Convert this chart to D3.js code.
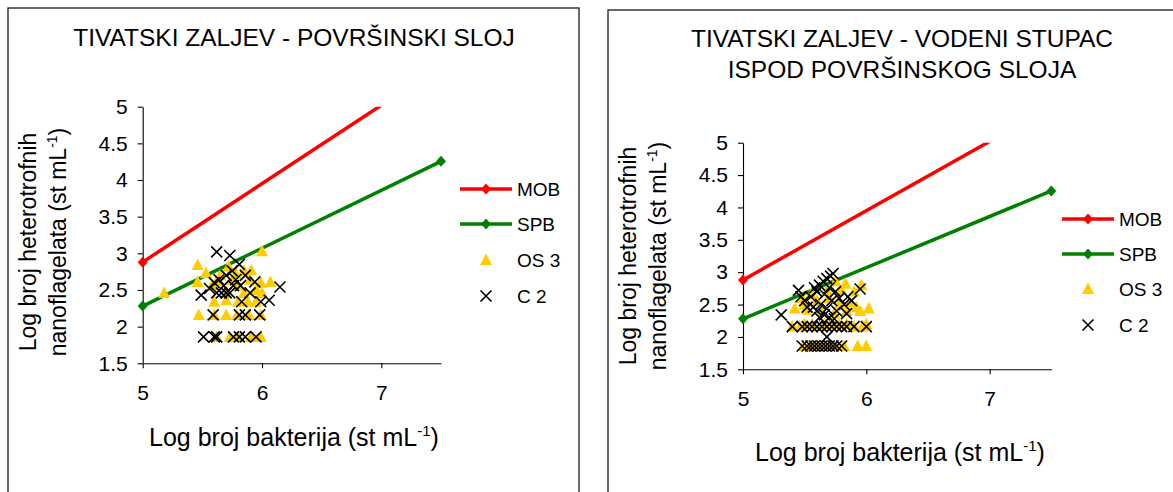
<!DOCTYPE html>
<html><head><meta charset="utf-8">
<script src="https://cdn.jsdelivr.net/npm/d3@7/dist/d3.min.js"></script>
<style>
body{margin:0;background:#fff}
svg{display:block}
text{font-family:"Liberation Sans",Arial,sans-serif;fill:#000}
</style>
</head><body>
<svg id="c" width="1173" height="492"></svg>
<script>
// ---------- data ----------
const xTicks = [5, 6, 7];
const yTicks = [1.5, 2, 2.5, 3, 3.5, 4, 4.5, 5];
const xDomain = [5, 7.5];
const yDomain = [1.5, 5];
const seriesNames = ["MOB", "SPB", "OS 3", "C 2"];
const mobLine = [[5, 2.88], [7.5, 5.555]];
const spbLine = [[5, 2.28], [7.5, 4.255]];

const os3Surface = [[5.18,2.46],[5.46,2.84],[5.53,2.73],[5.46,2.61],[5.72,2.82],[5.91,2.77],[6.0,3.03],[6.07,2.61],[5.99,2.60],
 [5.58,2.56],[5.65,2.70],[5.70,2.46],[5.75,2.64],[5.80,2.56],[5.85,2.46],[5.90,2.64],[5.95,2.50],[6.0,2.46],
 [5.60,2.34],[5.70,2.36],[5.80,2.34],[5.88,2.34],[5.95,2.34],[5.78,2.72],[5.85,2.76],[5.62,2.62],
 [5.47,2.16],[5.60,2.16],[5.70,2.16],[5.79,2.16],[5.89,2.16],[5.99,2.16],
 [5.62,1.86],[5.73,1.86],[5.80,1.86],[5.91,1.86],[5.99,1.86]];
const c2Surface = [[5.62,3.02],[5.73,2.97],[5.81,2.85],[5.75,2.76],[5.70,2.70],[5.64,2.64],[5.78,2.64],[5.86,2.70],[5.60,2.60],
 [5.82,2.56],[5.68,2.56],[5.76,2.56],[5.94,2.61],[6.15,2.54],[5.56,2.52],[5.49,2.43],[5.62,2.46],[5.66,2.46],[5.70,2.46],
 [5.73,2.46],[5.90,2.46],[5.83,2.34],[5.99,2.34],[6.06,2.36],[5.59,2.16],[5.81,2.16],[5.86,2.16],[5.98,2.16],
 [5.51,1.86],[5.60,1.86],[5.62,1.86],[5.76,1.86],[5.81,1.86],[5.86,1.86],[5.95,1.86]];

const os3Deep = [[5.75,2.86],[5.83,2.82],[5.96,2.80],[5.90,2.70],[5.80,2.72],[5.68,2.72],[5.55,2.66],[5.48,2.60],[5.42,2.44],
 [5.50,2.50],[5.60,2.56],[5.70,2.60],[5.78,2.50],[5.86,2.54],[5.95,2.40],[6.02,2.44],[5.92,2.46],
 [5.40,2.16],[5.46,2.16],[5.50,2.20],[5.56,2.20],[5.62,2.16],[5.66,2.20],[5.72,2.20],[5.78,2.20],[5.84,2.20],[5.90,2.16],[5.97,2.16],[6.00,2.20],
 [5.52,2.42],[5.64,2.40],[5.74,2.36],[5.84,2.40],
 [5.49,1.86],[5.55,1.86],[5.60,1.86],[5.65,1.86],[5.70,1.86],[5.76,1.86],[5.82,1.86],[5.93,1.86],[6.00,1.86]];
const c2Deep = [[5.73,2.98],[5.71,2.94],[5.68,2.90],[5.65,2.86],[5.62,2.80],[5.58,2.76],
 [5.45,2.72],[5.47,2.62],[5.50,2.56],[5.55,2.62],[5.60,2.70],[5.66,2.66],[5.70,2.76],[5.75,2.70],[5.78,2.60],[5.85,2.62],[5.95,2.74],
 [5.88,2.56],[5.82,2.50],[5.72,2.56],[5.63,2.50],[5.57,2.46],[5.52,2.46],[5.60,2.40],[5.68,2.44],[5.76,2.40],[5.84,2.36],
 [5.31,2.34],[5.40,2.16],[5.48,2.16],[5.52,2.16],[5.56,2.16],[5.60,2.16],[5.64,2.16],[5.68,2.16],[5.72,2.16],[5.76,2.16],[5.80,2.16],[5.84,2.16],[5.90,2.16],[6.00,2.16],
 [5.62,2.30],[5.66,2.34],[5.70,2.30],[5.74,2.28],
 [5.68,2.0],
 [5.48,1.86],[5.52,1.86],[5.55,1.86],[5.58,1.86],[5.61,1.86],[5.64,1.86],[5.67,1.86],[5.70,1.86],[5.73,1.86],[5.76,1.86],[5.80,1.86]];

const titleSurface = ["TIVATSKI ZALJEV - POVRŠINSKI SLOJ"];
const titleDeep = ["TIVATSKI ZALJEV - VODENI STUPAC", "ISPOD POVRŠINSKOG SLOJA"];
const yTitleLines = ["Log broj heterotrofnih", "nanoflagelata (st mL"];
const xTitle = "Log broj bakterija (st mL";

// ---------- layout ----------
const panels = [
  {box:[8,8,571,520], x:[142.7,441], y:[363.3,106.7], title:titleSurface, titleX:294, titleY:46,
   yTitleX:[36,66], yTitleY:242, xTitleX:294, xTitleY:446, legX:460, legY:[189,224,260,296],
   os3:os3Surface, c2:c2Surface},
  {box:[608,10,600,520], x:[743,1051.3], y:[369.3,142.7], title:titleDeep, titleX:902, titleY:47,
   yTitleX:[636,666], yTitleY:256, xTitleX:900, xTitleY:461, legX:1062, legY:[219,254,289,325],
   os3:os3Deep, c2:c2Deep}
];

const svg = d3.select("#c");
const diamond = "M0,-5.5L5,0L0,5.5L-5,0Z";
const tri = "M0,-6.5L6,5L-6,5Z";
const cross = "M-5.5,-5.5L5.5,5.5M-5.5,5.5L5.5,-5.5";
const red = "#ff0000", green = "#008000", yellow = "#ffcc00";
const FONT = '"Liberation Sans",Arial,sans-serif';

panels.forEach((p, i) => {
  const g = svg.append("g");
  g.append("rect").attr("x", p.box[0]).attr("y", p.box[1]).attr("width", p.box[2]).attr("height", p.box[3])
    .attr("fill", "#fff").attr("stroke", "#1a1a1a").attr("stroke-width", 1.3);

  const x = d3.scaleLinear().domain(xDomain).range(p.x);
  const y = d3.scaleLinear().domain(yDomain).range(p.y);

  // titles
  p.title.forEach((t, k) => g.append("text").attr("x", p.titleX).attr("y", p.titleY + k * 31)
    .attr("text-anchor", "middle").style("font-size", "24.5px").text(t));

  // axes
  const ya = g.append("g").attr("transform", `translate(${p.x[0]},0)`)
    .call(d3.axisLeft(y).tickValues(yTicks).tickFormat(d3.format("")).tickSize(5).tickSizeOuter(0).tickPadding(10));
  const xa = g.append("g").attr("transform", `translate(0,${p.y[0]})`)
    .call(d3.axisBottom(x).tickValues(xTicks).tickFormat(d3.format("d")).tickSize(5).tickSizeOuter(0).tickPadding(17));
  [ya, xa].forEach(a => {
    a.selectAll("path,line").attr("stroke", "#000").attr("stroke-width", 1.1);
    a.selectAll("text").style("font-size", "21px").style("font-family", FONT).attr("fill", "#000");
  });

  // axis titles
  const xt = g.append("text").attr("x", p.xTitleX).attr("y", p.xTitleY).attr("text-anchor", "middle").style("font-size", "25px");
  xt.append("tspan").text(xTitle);
  xt.append("tspan").attr("dy", -10).style("font-size", "15px").text("-1");
  xt.append("tspan").attr("dy", 10).text(")");

  yTitleLines.forEach((t, k) => {
    const yt = g.append("text").attr("transform", `translate(${p.yTitleX[k]},${p.yTitleY}) rotate(-90)`)
      .attr("text-anchor", "middle").style("font-size", "23px");
    yt.append("tspan").text(t);
    if (k === 1) {
      yt.append("tspan").attr("dy", -9).style("font-size", "14px").text("-1");
      yt.append("tspan").attr("dy", 9).text(")");
    }
  });

  // clip
  const cid = "clip" + i;
  svg.append("clipPath").attr("id", cid).append("rect")
    .attr("x", p.x[0] - 8).attr("y", p.y[1]).attr("width", p.x[1] - p.x[0] + 16).attr("height", p.y[0] - p.y[1] + 8);

  const line = d3.line().x(d => x(d[0])).y(d => y(d[1]));
  const plot = g.append("g").attr("clip-path", `url(#${cid})`);
  [[mobLine, red], [spbLine, green]].forEach(([data, col]) => {
    plot.append("path").datum(data).attr("d", line).attr("fill", "none").attr("stroke", col).attr("stroke-width", 3.5);
    plot.selectAll(null).data(data).join("path").attr("d", diamond)
      .attr("transform", d => `translate(${x(d[0])},${y(d[1])})`).attr("fill", col);
  });

  g.append("g").selectAll("path").data(p.os3).join("path").attr("d", tri)
    .attr("transform", d => `translate(${x(d[0])},${y(d[1])})`).attr("fill", yellow);
  g.append("g").selectAll("path").data(p.c2).join("path").attr("d", cross)
    .attr("transform", d => `translate(${x(d[0])},${y(d[1])})`).attr("fill", "none").attr("stroke", "#000").attr("stroke-width", 1.6);

  // legend
  const lg = g.append("g");
  seriesNames.forEach((name, k) => {
    const ly = p.legY[k], cx = p.legX + 26;
    if (k < 2) {
      const col = k === 0 ? red : green;
      lg.append("line").attr("x1", p.legX).attr("x2", p.legX + 52).attr("y1", ly).attr("y2", ly)
        .attr("stroke", col).attr("stroke-width", 3.5);
      lg.append("path").attr("d", diamond).attr("transform", `translate(${cx},${ly})`).attr("fill", col);
    } else if (k === 2) {
      lg.append("path").attr("d", tri).attr("transform", `translate(${cx},${ly})`).attr("fill", yellow);
    } else {
      lg.append("path").attr("d", cross).attr("transform", `translate(${cx},${ly})`)
        .attr("fill", "none").attr("stroke", "#000").attr("stroke-width", 1.6);
    }
    lg.append("text").attr("x", p.legX + 57).attr("y", ly + 7).style("font-size", "19px").text(name);
  });
});
</script>
</body></html>
